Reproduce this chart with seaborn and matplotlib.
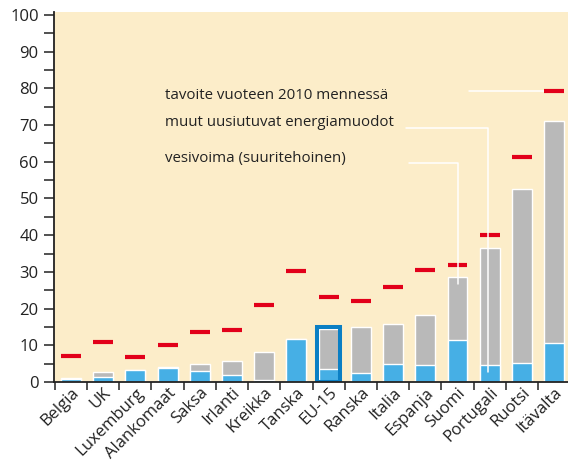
import numpy as np
import matplotlib
matplotlib.use("Agg")
import matplotlib.pyplot as plt
import seaborn as sns

# Data (%)
maat = ["Belgia", "UK", "Luxemburg", "Alankomaat", "Saksa", "Irlanti", "Kreikka",
        "Tanska", "EU-15", "Ranska", "Italia", "Espanja", "Suomi", "Portugali",
        "Ruotsi", "Itävalta"]
vesivoima = [0.8, 1.4, 3.3, 3.8, 3.0, 1.9, 0.5, 11.7, 3.5, 2.5, 4.9, 4.6, 11.4, 4.6, 5.2, 10.6]
yhteensa = [1.1, 2.7, 3.3, 4.1, 4.9, 5.7, 8.2, 11.7, 14.4, 15.0, 15.8, 18.3, 28.6, 36.5, 52.7, 71.1]
tavoite = [7.1, 11.0, 6.7, 10.0, 13.5, 14.2, 20.9, 30.2, 23.1, 22.0, 26.0, 30.5, 32.0, 40.1, 61.2, 79.2]
korostettu = "EU-15"

sns.set_style("ticks")
plt.rcParams["font.family"] = ["Open Sans", "DejaVu Sans"]

tausta = "#fcedc9"
harmaa = "#b9b9b9"
sininen = "#46afe5"
punainen = "#e2001a"
kehys = "#0b7fc4"
teksti = "#222222"

fig = plt.figure(figsize=(5.68, 4.62), dpi=100)
ax = fig.add_axes([0.095, 0.1732, 0.905, 0.8008])
ax.set_facecolor(tausta)

sns.barplot(x=maat, y=yhteensa, color=harmaa, width=0.62, saturation=1, ax=ax)
sns.barplot(x=maat, y=vesivoima, color=sininen, width=0.62, saturation=1, ax=ax)

x = np.arange(len(maat))
ax.hlines(tavoite, x - 0.31, x + 0.31, colors=punainen, lw=3.0, capstyle="butt", zorder=4)

# EU-15 frame
i = maat.index(korostettu)
ax.bar(i, yhteensa[i] + 0.5, width=0.7, facecolor="none", edgecolor=kehys,
       linewidth=2.9, zorder=3)

# legend texts with white leader lines
ax.text(2.92, 78.0, "tavoite vuoteen 2010 mennessä", fontsize=10.8, color=teksti, va="center")
ax.text(2.92, 70.6, "muut uusiutuvat energiamuodot", fontsize=10.8, color=teksti, va="center")
ax.text(2.92, 60.8, "vesivoima (suuritehoinen)", fontsize=10.8, color=teksti, va="center")
ax.plot([12.36, 14.69], [79.3, 79.3], color="white", lw=1.1, zorder=2)
ax.plot([10.4, 12.95, 12.95], [69.2, 69.2, 2.7], color="white", lw=1.1, zorder=5)
ax.plot([10.5, 12.02, 12.02], [59.7, 59.7, 26.7], color="white", lw=1.1, zorder=5)

ax.set_xlim(-0.528, 15.43)
ax.set_ylim(0, 100.8)
ax.set_yticks(np.arange(0, 101, 10))
ax.set_yticks(np.arange(5, 100, 10), minor=True)
ax.set_xticks(x)
ax.set_xticks(np.arange(-0.5, 15, 1), minor=True)
ax.set_xticklabels(maat, rotation=45, ha="right", va="top", rotation_mode="anchor")
ax.set_xlabel("")
ax.set_ylabel("")

ax.tick_params(axis="y", which="both", length=7, width=1.1, color="#222222",
               labelsize=12, labelcolor=teksti, pad=4)
ax.tick_params(axis="x", which="major", length=0, labelsize=12, labelcolor=teksti, pad=2)
ax.tick_params(axis="x", which="minor", length=6, width=1.1, color="#222222")

for s in ["top", "right"]:
    ax.spines[s].set_visible(False)
for s in ["left", "bottom"]:
    ax.spines[s].set_color("#222222")
    ax.spines[s].set_linewidth(1.3)
    ax.spines[s].set_zorder(6)

fig.savefig("out.png", dpi=100)
